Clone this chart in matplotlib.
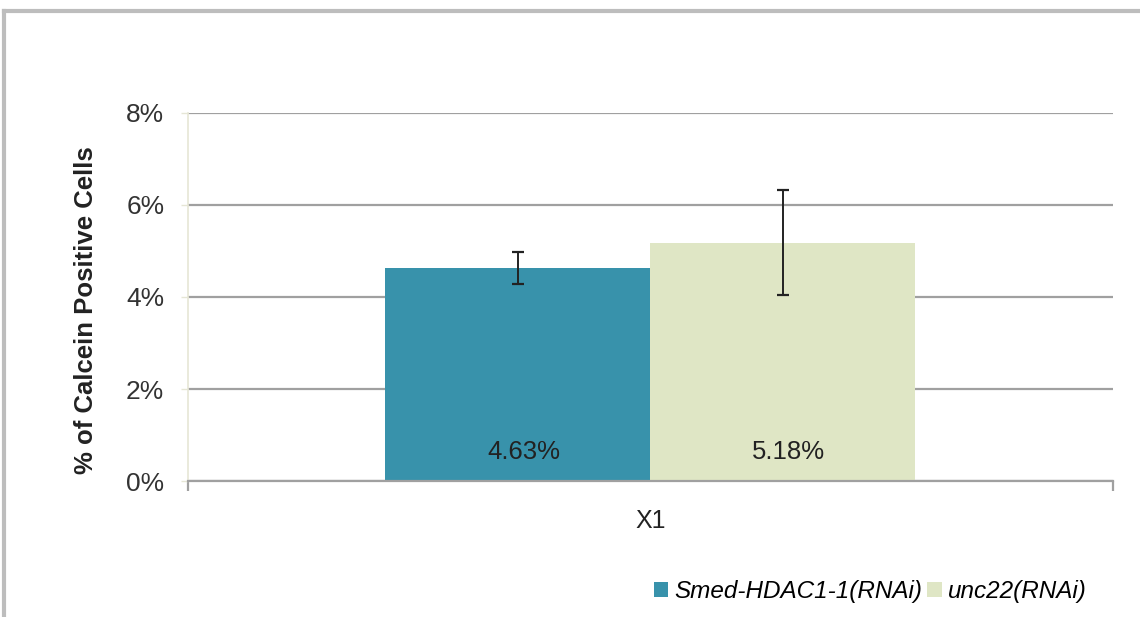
import matplotlib
matplotlib.use("Agg")
import matplotlib.pyplot as plt
from matplotlib.lines import Line2D
from matplotlib.patches import Patch
from matplotlib.ticker import FuncFormatter

categories = ["X1"]
series_names = ["Smed-HDAC1-1(RNAi)", "unc22(RNAi)"]
values = [4.63, 5.18]
errors = [0.34, 1.14]
colors = ["#3892AB", "#DFE6C5"]

plt.rcParams["font.family"] = ["Liberation Sans", "DejaVu Sans"]

fig = plt.figure(figsize=(11.4, 6.17), dpi=100)
ax = fig.add_axes([0.1649, 0.2204, 0.8114, 0.5965])

width = 0.2865
offsets = [-width / 2, width / 2]
for name, v, e, c, off in zip(series_names, values, errors, colors, offsets):
    ax.bar(off, v, width=width, color=c, zorder=2, label=name)
    ax.errorbar(off, v, yerr=e, fmt="none", ecolor="#222222", elinewidth=1.4,
                capsize=4, capthick=1.6, zorder=3)
    ax.annotate(f"{v:.2f}%", xy=(off, 0.62), xytext=(4, 0),
                textcoords="offset points", ha="center", va="center",
                fontsize=18.5, color="#222222", zorder=4)

ax.set_xlim(-0.5, 0.5)
ax.set_ylim(0, 8)
ax.set_yticks([0, 2, 4, 6, 8])
ax.yaxis.set_major_formatter(FuncFormatter(lambda y, _: f"{y:.0f}%"))
ax.grid(axis="y", color="#A0A0A0", linewidth=1.6, zorder=1)
ax.tick_params(axis="y", labelsize=19, colors="#E6E6D6", labelcolor="#333333",
               length=5, width=1, pad=12)
ax.set_xticks([-0.5, 0.5])
ax.set_xticklabels(["", ""])
ax.tick_params(axis="x", colors="#A0A0A0", length=7, width=1.6)
ax.text(0.0, -40 / 368 * 8, categories[0], ha="center", va="center",
        fontsize=18, color="#222222")

for s in ["top", "right"]:
    ax.spines[s].set_visible(False)
ax.spines["left"].set_color("#E6E6D6")
ax.spines["left"].set_linewidth(1.2)
ax.spines["bottom"].set_color("#A0A0A0")
ax.spines["bottom"].set_linewidth(1.6)

ax.set_ylabel("% of Calcein Positive Cells", fontsize=18.5, fontweight="bold",
              color="#222222", va="center")
ax.yaxis.set_label_coords(-0.1103, 0.465)

handles = [Patch(facecolor=c, edgecolor="none") for c in colors]
fig.legend(handles, series_names, loc="center left",
           bbox_to_anchor=(0.5735, 0.041), ncol=2, frameon=False,
           prop={"style": "italic", "size": 17.5}, handlelength=0.6,
           handleheight=0.6, handletextpad=0.25, columnspacing=0.2,
           borderpad=0, borderaxespad=0)

# outer frame
fig.add_artist(Line2D([0.0035, 1.0], [1 - 11 / 617, 1 - 11 / 617],
                      transform=fig.transFigure, color="#BDBDBD", linewidth=3))
fig.add_artist(Line2D([0.0035, 0.0035], [0.0, 1 - 11 / 617],
                      transform=fig.transFigure, color="#BDBDBD", linewidth=3))

fig.savefig("out.png", dpi=100, facecolor="white")
